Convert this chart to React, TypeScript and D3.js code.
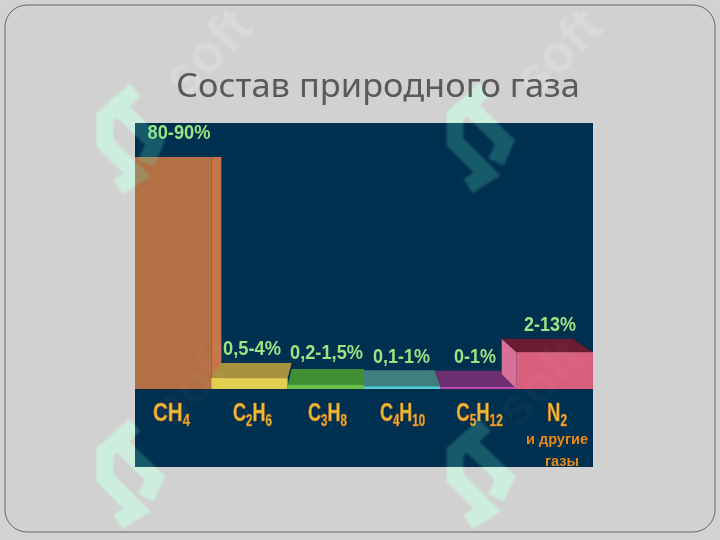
import React from "react";
import * as d3 from "d3";

const categories = ["CH4", "C2H6", "C3H8", "C4H10", "C5H12", "N2"];
const formulaParts = [
  [["C", 0], ["H", 0], ["4", 1]],
  [["C", 0], ["2", 1], ["H", 0], ["6", 1]],
  [["C", 0], ["3", 1], ["H", 0], ["8", 1]],
  [["C", 0], ["4", 1], ["H", 0], ["10", 1]],
  [["C", 0], ["5", 1], ["H", 0], ["12", 1]],
  [["N", 0], ["2", 1]],
] as [string, number][][];
const rangeLabels = ["80-90%", "0,5-4%", "0,2-1,5%", "0,1-1%", "0-1%", "2-13%"];
const barValues = [85, 4, 1.5, 1, 0.8, 13.5];
const yDomain = [0, 85];

const W = 720, H = 540;
const chart = { x: 135, y: 123, w: 458, h: 344, base: 389 };
const x = d3.scaleBand<string>().domain(categories).range([chart.x, chart.x + chart.w]);
const y = d3.scaleLinear().domain(yDomain).range([chart.base, 157]);

const frontCols = ["#b36f45", "#e3cf50", "#6cc04a", "#4fd0d0", "#c248b8", "#d9607c"];
const topCols = ["#b36f45", "#a8923c", "#3f8f35", "#3f7f7f", "#6e2f72", "#6b1a30"];
// top-face offsets: back-left dx, back-right dx, rise
const topShape = [[0, 10, 0], [10, 4, 15], [4, 0, 16], [0, -5, 16], [-6, -16, 16], [-15, -20, 13.5]];
const labelCx = [179, 252, 326.5, 401.5, 475, 550];
const labelW = [63, 58, 73, 57, 42, 52];
const labelY = [139, 355, 359, 363, 363, 331];
const formCx = [171.5, 252.5, 327.5, 402.5, 479.5, 557];
const formScale = [0.82, 0.72, 0.72, 0.72, 0.74, 0.74];

const wmPositions: [number, number][] = [[95, 80], [445, 79], [95, 415], [445, 415]];
const softPositions: [number, number][] = [[185, 100], [535, 100], [172, 430], [517, 430]];

function Logo({ fill, opacity }: { fill: string; opacity: number }) {
  return (
    <g opacity={opacity} fill="none" stroke={fill} strokeWidth={17}>
      {wmPositions.map(([px, py], i) => (
        <g key={i} transform={`translate(${px},${py})`}>
          <path d="M40,10 L10,37 L10,63 L42,95 L23,107" />
          <path d="M23,27 L60,63 L51,83" />
        </g>
      ))}
    </g>
  );
}

function Soft({ fill, opacity }: { fill: string; opacity: number }) {
  return (
    <g opacity={opacity} fill={fill}>
      {softPositions.map(([px, py], i) => (
        <text key={i} transform={`translate(${px},${py}) rotate(-45)`}
          fontFamily="Liberation Sans" fontWeight="bold" fontSize={54}>soft</text>
      ))}
    </g>
  );
}

export default function App() {
  return (
    <svg width={W} height={H} viewBox={`0 0 ${W} ${H}`} style={{ position: "fixed", left: 0, top: 0 }}>
      <defs>
        <clipPath id="chartClip"><rect x={chart.x} y={chart.y} width={chart.w} height={chart.h} /></clipPath>
        <filter id="soft" x="-5%" y="-5%" width="110%" height="110%"><feGaussianBlur stdDeviation="0.5" /></filter>
        <filter id="wm" x="-5%" y="-5%" width="110%" height="110%"><feGaussianBlur stdDeviation="1" /></filter>
      </defs>
      <rect width={W} height={H} fill="#d2d2d2" />
      <rect x={5} y={5} width={710} height={527} rx={22} fill="#d1d1d1" stroke="#666" strokeWidth={1} />
      <g filter="url(#wm)">
        <Soft fill="#d9d9d9" opacity={1} />
        <Logo fill="#cdeedd" opacity={1} />
      </g>
      <text x={378} y={96.5} textAnchor="middle" fontFamily="Noto Sans" fontSize={33} fill="#5a5a5a"
        textLength={404} lengthAdjust="spacingAndGlyphs">Состав природного газа</text>
      <rect x={chart.x} y={chart.y} width={chart.w} height={chart.h} fill="#00304f" />
      <g filter="url(#soft)">
        {categories.map((c, i) => {
          const x0 = x(c)!, x1 = x0 + x.bandwidth(), top = y(barValues[i]);
          const [dl, dr, rise] = topShape[i];
          return (
            <g key={c}>
              {i === 0 && <rect x={x1} y={top} width={10} height={chart.base - top} fill="#c6744a" />}
              {i === 5 && <polygon points={`${x0},${top} ${x0 + dl},${top - rise} ${x0 + dl},${chart.base - 15} ${x0},${chart.base}`} fill="#d9709a" />}
              {i > 0 && <polygon points={`${x0 + dl},${top - rise} ${x1 + dr},${top - rise} ${x1},${top} ${x0},${top}`} fill={topCols[i]} />}
              <rect x={x0} y={top} width={x.bandwidth()} height={chart.base - top} fill={frontCols[i]} />
            </g>
          );
        })}
        <line x1={chart.x} x2={chart.x + chart.w} y1={chart.base + 0.5} y2={chart.base + 0.5} stroke="#0a2a44" />
        {categories.map((c, i) => (
          <text key={c} x={labelCx[i]} y={labelY[i]} textAnchor="middle" fontFamily="Liberation Sans"
            fontWeight="bold" fontSize={20} fill="#9ae484" textLength={labelW[i]} lengthAdjust="spacingAndGlyphs">{rangeLabels[i]}</text>
        ))}
        {categories.map((c, i) => (
          <g key={c} transform={`translate(${formCx[i]},421) scale(${formScale[i]},1)`}>
            <text textAnchor="middle" fontFamily="Liberation Sans" fontWeight="bold" fontSize={25}
              fill="#e8bd3a" stroke="#c8701e" strokeWidth={0.7}>
              {formulaParts[i].map(([t, sub], k) => {
                const prev = k > 0 ? formulaParts[i][k - 1][1] : 0;
                return <tspan key={k} fontSize={sub ? 16 : 25} dy={sub && !prev ? 5 : !sub && prev ? -5 : 0}>{t}</tspan>;
              })}
            </text>
          </g>
        ))}
        <text x={557} y={444} textAnchor="middle" fontFamily="Liberation Sans" fontWeight="bold" fontSize={14} fill="#e68a1a"
          textLength={62} lengthAdjust="spacingAndGlyphs">и другие</text>
        <text x={562} y={466} textAnchor="middle" fontFamily="Liberation Sans" fontWeight="bold" fontSize={14} fill="#e68a1a"
          textLength={34} lengthAdjust="spacingAndGlyphs">газы</text>
      </g>
      <g clipPath="url(#chartClip)" filter="url(#wm)">
        <Soft fill="#ffffff" opacity={0.03} />
        <Logo fill="#5fe0c0" opacity={0.24} />
      </g>
    </svg>
  );
}
